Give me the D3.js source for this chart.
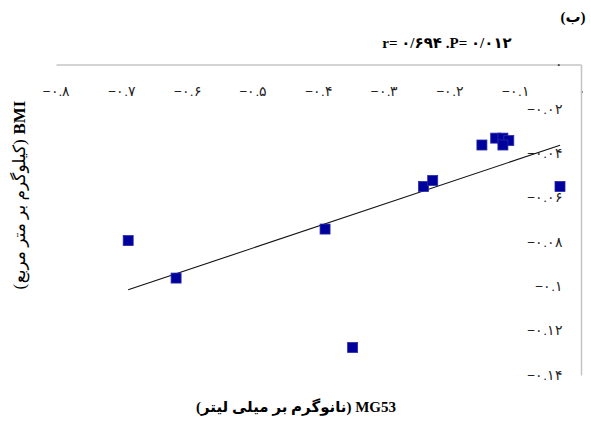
<!DOCTYPE html>
<html>
<head>
<meta charset="utf-8">
<script src="https://cdn.jsdelivr.net/npm/d3@7"></script>
<style>
  html, body { margin: 0; padding: 0; background: #fff; }
  svg { display: block; font-family: "Liberation Serif", "DejaVu Sans", serif; }
</style>
</head>
<body>
<svg id="chart" width="591" height="425"></svg>
<script>
// MG53 (ng/ml) against BMI (kg/m²)
const mg53 = [-0.690, -0.617, -0.390, -0.348, -0.240, -0.226, -0.151, -0.130, -0.119, -0.110, -0.119, -0.032];
const bmi  = [-0.0794, -0.0963, -0.0742, -0.1276, -0.0550, -0.0523, -0.0363, -0.0332, -0.0332, -0.0343, -0.0363, -0.0550];

const xTicks = [-0.8, -0.7, -0.6, -0.5, -0.4, -0.3, -0.2, -0.1, 0];
const xTickLabels = ["−۰.۸", "−۰.۷", "−۰.۶", "−۰.۵", "−۰.۴", "−۰.۳", "−۰.۲", "−۰.۱", "۰"];
const yTicks = [0, -0.02, -0.04, -0.06, -0.08, -0.1, -0.12, -0.14];
const yTickLabels = ["۰", "−۰.۰۲", "−۰.۰۴", "−۰.۰۶", "−۰.۰۸", "−۰.۱", "−۰.۱۲", "−۰.۱۴"];

const panelLabel = "(ب)";
const statsText = "r= ۰/۶۹۴ .P= ۰/۰۱۲";
const xTitleLatin = "MG53";
const xTitleUnit = "(نانوگرم بر میلی لیتر)";
const yTitleLatin = "BMI";
const yTitleUnit = "(کیلوگرم بر متر مربع)";

const svg = d3.select("#chart");

const x = d3.scaleLinear().domain([-0.8, 0]).range([56, 581]);
const y = d3.scaleLinear().domain([0, -0.14]).range([64.5, 375]);

// horizontal axis along y = 0 (top), labels under the line
const xAxis = d3.axisBottom(x)
  .tickValues(xTicks)
  .tickSize(0)
  .tickPadding(22)
  .tickFormat((d, i) => xTickLabels[i]);
const gx = svg.append("g").attr("transform", `translate(0,${y(0)})`).call(xAxis);
gx.select(".domain").attr("stroke", "#c4c4c4").attr("stroke-width", 1.5);
gx.selectAll("text").attr("font-size", 13.5).attr("fill", "#222").attr("direction", "ltr");

// vertical axis along x = 0 (right), labels left of the line
const yAxis = d3.axisLeft(y)
  .tickValues(yTicks)
  .tickSize(0)
  .tickPadding(18)
  .tickFormat((d, i) => yTickLabels[i]);
const gy = svg.append("g").attr("transform", `translate(${x(0)},0)`).call(yAxis);
gy.select(".domain").attr("stroke", "#c4c4c4").attr("stroke-width", 1.5);
gy.selectAll("text").attr("font-size", 13.5).attr("fill", "#222").attr("direction", "ltr");

// least-squares trend line over the data range
const n = mg53.length;
const mx = d3.mean(mg53), my = d3.mean(bmi);
let sxy = 0, sxx = 0;
for (let i = 0; i < n; i++) {
  sxy += (mg53[i] - mx) * (bmi[i] - my);
  sxx += (mg53[i] - mx) ** 2;
}
const slope = sxy / sxx;
const intercept = my - slope * mx;
const [x0, x1] = d3.extent(mg53);
svg.append("path")
  .datum([x0, x1])
  .attr("d", d3.line().x(d => x(d)).y(d => y(intercept + slope * d)))
  .attr("stroke", "#111")
  .attr("stroke-width", 1.1)
  .attr("fill", "none");

// square markers
const size = 10;
svg.append("g").selectAll("rect")
  .data(mg53.map((v, i) => [v, bmi[i]]))
  .join("rect")
  .attr("x", d => x(d[0]) - size / 2)
  .attr("y", d => y(d[1]) - size / 2)
  .attr("width", size)
  .attr("height", size)
  .attr("fill", "#00009c")
  .attr("stroke", "#2a2aa8")
  .attr("stroke-width", 0.8);

// panel label and statistics
svg.append("text")
  .attr("x", 573).attr("y", 22)
  .attr("text-anchor", "middle")
  .attr("font-size", 15)
  .attr("font-weight", "bold")
  .attr("direction", "rtl")
  .text(panelLabel);

svg.append("text")
  .attr("x", 447).attr("y", 48)
  .attr("text-anchor", "middle")
  .attr("font-size", 15)
  .attr("font-weight", "bold")
  .attr("direction", "ltr")
  .text(statsText);

// x-axis title (right-to-left)
const xt = svg.append("text")
  .attr("x", 296).attr("y", 412)
  .attr("text-anchor", "middle")
  .attr("direction", "rtl")
  .attr("font-size", 15)
  .attr("font-weight", "bold");
xt.append("tspan").text(xTitleLatin + " ");
xt.append("tspan").text(xTitleUnit);

// y-axis title (right-to-left, rotated)
const yt = svg.append("text")
  .attr("transform", "translate(25,195) rotate(-90)")
  .attr("text-anchor", "middle")
  .attr("direction", "rtl")
  .attr("font-size", 17);
yt.append("tspan").attr("font-weight", "bold").text(yTitleLatin + " ");
yt.append("tspan").attr("letter-spacing", 0.5).text(yTitleUnit);
</script>
</body>
</html>
